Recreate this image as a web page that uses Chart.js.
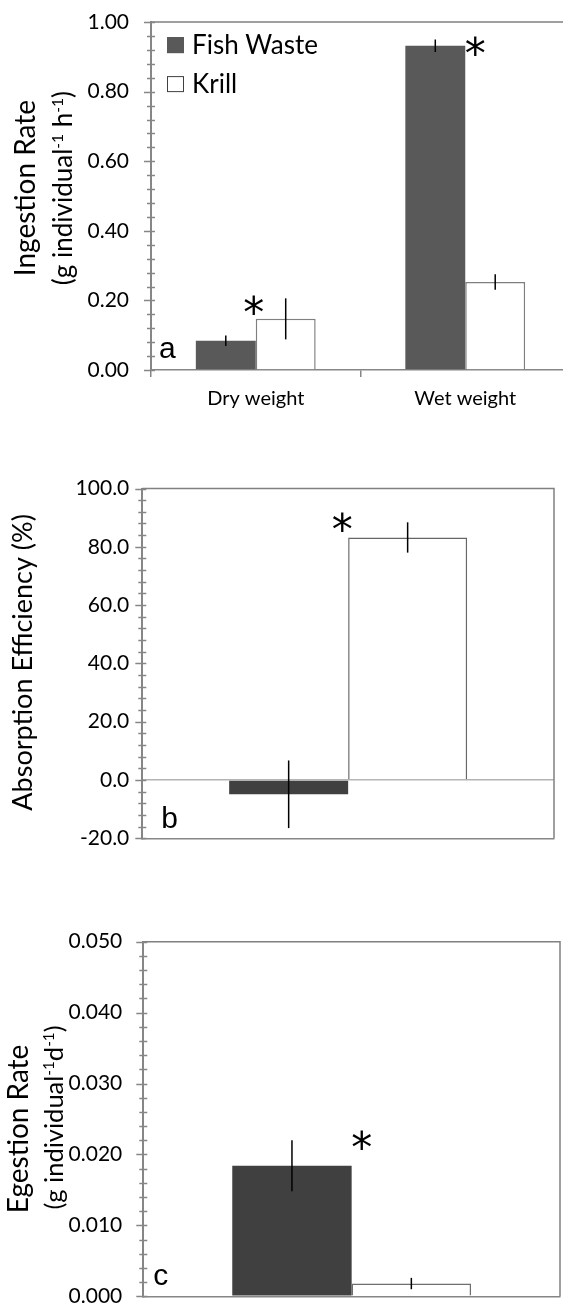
<!DOCTYPE html>
<html>
<head>
<meta charset="utf-8">
<script src="https://cdn.jsdelivr.net/npm/chart.js@4.4.1/dist/chart.umd.min.js"></script>
<style>
  html, body { margin: 0; padding: 0; background: #fff; overflow: hidden; width: 563px; height: 1306px; }
  .panel { position: absolute; left: 0; width: 563px; overflow: hidden; }
  canvas { display: block; }
</style>
</head>
<body>
<div class="panel" style="top:0px;height:430px"><canvas id="ingestion" width="580" height="430"></canvas></div>
<div class="panel" style="top:440px;height:420px"><canvas id="absorption" width="563" height="420"></canvas></div>
<div class="panel" style="top:880px;height:426px"><canvas id="egestion" width="563" height="450"></canvas></div>
<script>
// ---------- data ----------
const seriesNames = ['Fish Waste', 'Krill'];

// (a) ingestion rate, g individual^-1 h^-1
const ingestionCategories = ['Dry weight', 'Wet weight'];
const ingestionFishWaste = [0.084, 0.932];
const ingestionFishWasteSE = [0.015, 0.018];
const ingestionKrill = [0.147, 0.253];
const ingestionKrillSE = [0.059, 0.022];
const ingestionTickLabels = ['0.00', '0.20', '0.40', '0.60', '0.80', '1.00'];

// (b) absorption efficiency, %
const absorptionCategories = [''];
const absorptionFishWaste = [-4.9];
const absorptionFishWasteSE = [11.6];
const absorptionKrill = [83.2];
const absorptionKrillSE = [5.2];
const absorptionTickLabels = ['-20.0', '0.0', '20.0', '40.0', '60.0', '80.0', '100.0'];

// (c) egestion rate, g individual^-1 d^-1
const egestionCategories = [''];
const egestionFishWaste = [0.0184];
const egestionFishWasteSE = [0.0036];
const egestionKrill = [0.0018];
const egestionKrillSE = [0.0008];
const egestionTickLabels = ['0.000', '0.010', '0.020', '0.030', '0.040', '0.050'];

// ---------- styling ----------
const AXIS_GREY = '#868686';
const FRAME_GREY = '#808080';
const TEXT_FONT = 'Lato';

Chart.defaults.font.family = TEXT_FONT;
Chart.defaults.color = '#000';

// Draws frame lines, crossing tick marks, error bars, significance stars,
// panel letter, the rotated (superscripted) axis title and the legend.
const panelDecor = {
  id: 'panelDecor',
  afterDatasetsDraw(chart, args, o) {
    const { ctx, chartArea: a, scales: { y } } = chart;
    ctx.save();
    // frame: top and right edges of the plot box
    ctx.strokeStyle = FRAME_GREY;
    ctx.lineWidth = 1.5;
    ctx.beginPath();
    ctx.moveTo(a.left, a.top); ctx.lineTo(a.right, a.top); ctx.lineTo(a.right, a.bottom);
    ctx.stroke();

    // y tick marks (major labelled, minor unlabelled), crossing the axis
    ctx.strokeStyle = AXIS_GREY;
    ctx.lineWidth = 1.5;
    y.ticks.forEach((t) => {
      const py = Math.round(y.getPixelForValue(t.value)) + 0.5;
      const major = t.label !== '';
      ctx.beginPath();
      ctx.moveTo(a.left - (major ? 7 : 4), py);
      ctx.lineTo(a.left + 4, py);
      ctx.stroke();
    });

    // error bars (mean ± SE)
    ctx.strokeStyle = '#000';
    ctx.lineWidth = 1.5;
    chart.data.datasets.forEach((ds, di) => {
      const se = o.errors[di];
      chart.getDatasetMeta(di).data.forEach((bar, i) => {
        const v = ds.data[i];
        const e = se[i];
        ctx.beginPath();
        ctx.moveTo(bar.x, y.getPixelForValue(v + e));
        ctx.lineTo(bar.x, y.getPixelForValue(v - e));
        ctx.stroke();
      });
    });

    // significance stars beside the relevant bars
    ctx.fillStyle = '#000';
    ctx.font = o.starFont;
    ctx.textAlign = 'center';
    ctx.textBaseline = 'alphabetic';
    const sm = ctx.measureText('*');
    const starShift = (sm.actualBoundingBoxAscent - sm.actualBoundingBoxDescent) / 2;
    o.stars.forEach((s) => {
      const bar = chart.getDatasetMeta(s.dataset).data[s.index];
      const ds = chart.data.datasets[s.dataset];
      const edge = s.edge === 'left' ? bar.x - bar.width / 2 : bar.x + bar.width / 2;
      const top = y.getPixelForValue(ds.data[s.index] + o.errors[s.dataset][s.index]);
      ctx.fillText('*', edge + s.dx, top + s.dy + starShift);
    });

    // panel letter
    ctx.font = o.letterFont;
    ctx.textAlign = 'left';
    ctx.fillText(o.letter, a.left + o.letterDx, a.bottom - o.letterDy);

    // rotated axis title with superscripts
    const mid = (a.top + a.bottom) / 2;
    o.title.lines.forEach((segs, li) => {
      const size = o.title.sizes[li];
      const parts = segs.map((s) => {
        const fs = s.sup ? size * 0.6 : size;
        ctx.font = fs + 'px ' + TEXT_FONT;
        return { s, fs, w: ctx.measureText(s.t).width };
      });
      const total = parts.reduce((acc, p) => acc + p.w, 0);
      ctx.save();
      ctx.translate(o.title.baselines[li], mid + o.title.dys[li]);
      ctx.rotate(-Math.PI / 2);
      ctx.textAlign = 'left';
      let u = -total / 2;
      parts.forEach((p) => {
        ctx.font = p.fs + 'px ' + TEXT_FONT;
        ctx.fillText(p.s.t, u, p.s.sup ? -size * 0.36 : 0);
        u += p.w;
      });
      ctx.restore();
    });

    // legend inside the plot area
    if (o.legend) {
      ctx.font = o.legend.size + 'px ' + TEXT_FONT;
      ctx.textBaseline = 'middle';
      ctx.textAlign = 'left';
      chart.data.datasets.forEach((ds, di) => {
        const ly = a.top + o.legend.firstRow + di * o.legend.rowGap;
        const lx = a.left + o.legend.dx;
        ctx.fillStyle = ds.backgroundColor;
        ctx.fillRect(lx, ly - 8, 17, 16);
        ctx.strokeStyle = ds.legendEdge;
        ctx.lineWidth = 1;
        ctx.strokeRect(lx + 0.5, ly - 7.5, 16, 15);
        ctx.fillStyle = '#000';
        ctx.fillText(ds.label, lx + 25, ly + 1);
      });
    }
    ctx.restore();
  }
};

function tickLabeller(labels, min, major) {
  return (v) => {
    const k = (v - min) / major;
    const r = Math.round(k);
    return Math.abs(k - r) < 1e-6 ? labels[r] : '';
  };
}

function makePanel(id, cfg) {
  const canvas = document.getElementById(id);
  const area = cfg.area;
  return new Chart(canvas, {
    type: 'bar',
    data: {
      labels: cfg.categories,
      datasets: [
        { label: seriesNames[0], data: cfg.fish, backgroundColor: cfg.fishColor, borderColor: cfg.fishColor,
          borderWidth: 0, legendEdge: cfg.fishColor },
        { label: seriesNames[1], data: cfg.krill, backgroundColor: '#ffffff', borderColor: cfg.krillEdge,
          borderWidth: 1.5, legendEdge: '#404040' }
      ]
    },
    options: {
      responsive: false,
      animation: false,
      devicePixelRatio: 1,
      layout: { padding: { top: area.top, right: canvas.width - area.right, left: 0, bottom: 0 } },
      datasets: { bar: { categoryPercentage: cfg.catPct, barPercentage: 1.0 } },
      plugins: {
        legend: { display: false },
        tooltip: { enabled: false },
        panelDecor: cfg.decor
      },
      scales: {
        x: {
          offset: true,
          afterFit: (s) => { s.height = canvas.height - area.bottom; },
          border: { display: true, color: AXIS_GREY, width: 1.5 },
          grid: { offset: true, drawOnChartArea: false, drawTicks: cfg.xTicks, tickLength: 7,
                  color: AXIS_GREY, lineWidth: 1.5, display: cfg.xTicks },
          ticks: { display: cfg.xTicks, font: { size: 20, lineHeight: 0.01 }, padding: 21, color: '#000' }
        },
        y: {
          min: cfg.min, max: cfg.max,
          afterFit: (s) => { s.width = area.left; },
          border: { display: true, color: AXIS_GREY, width: 2 },
          grid: {
            drawTicks: false,
            drawOnChartArea: true,
            lineWidth: 1.5,
            color: (c) => (cfg.zeroLine && c.tick && c.tick.value === 0) ? '#b3b3b3' : 'rgba(0,0,0,0)'
          },
          ticks: {
            stepSize: cfg.minor,
            autoSkip: false,
            padding: cfg.tickPad,
            font: { size: 21, lineHeight: 0.01 },
            color: '#000',
            callback: tickLabeller(cfg.tickLabels, cfg.min, cfg.major)
          }
        }
      }
    },
    plugins: [panelDecor]
  });
}

makePanel('ingestion', {
  categories: ingestionCategories,
  fish: ingestionFishWaste, krill: ingestionKrill,
  fishColor: '#595959', krillEdge: '#7f7f7f',
  min: 0, max: 1, major: 0.2, minor: 0.04, tickLabels: ingestionTickLabels,
  area: { left: 151, top: 22, right: 570, bottom: 370 },
  tickPad: 22, xTicks: true, catPct: 0.572, zeroLine: false,
  decor: {
    errors: [ingestionFishWasteSE, ingestionKrillSE],
    starFont: '42px "DejaVu Sans"',
    stars: [
      { dataset: 1, index: 0, edge: 'left', dx: -2, dy: 7 },
      { dataset: 0, index: 1, edge: 'right', dx: 10, dy: 7 }
    ],
    letter: 'a', letterFont: '30px "Liberation Sans"', letterDx: 8, letterDy: 12,
    title: {
      sizes: [28, 26], baselines: [35, 72], dys: [-8, -8],
      lines: [
        [{ t: 'Ingestion Rate' }],
        [{ t: '(g individual' }, { t: '-1', sup: true }, { t: ' h' }, { t: '-1', sup: true }, { t: ')' }]
      ]
    },
    legend: { size: 26, dx: 16, firstRow: 23, rowGap: 39 }
  }
});

makePanel('absorption', {
  categories: absorptionCategories,
  fish: absorptionFishWaste, krill: absorptionKrill,
  fishColor: '#404040', krillEdge: '#666666',
  min: -20, max: 100, major: 20, minor: 4, tickLabels: absorptionTickLabels,
  area: { left: 142.3, top: 48.5, right: 554, bottom: 398.3 },
  tickPad: 13, xTicks: false, catPct: 0.578, zeroLine: true,
  decor: {
    errors: [absorptionFishWasteSE, absorptionKrillSE],
    starFont: '42px "DejaVu Sans"',
    stars: [
      { dataset: 1, index: 0, edge: 'left', dx: -6, dy: 0 }
    ],
    letter: 'b', letterFont: '30px "Liberation Sans"', letterDx: 19, letterDy: 10,
    title: {
      sizes: [27], baselines: [32], dys: [-1],
      lines: [[{ t: 'Absorption Efficiency (%)' }]]
    },
    legend: null
  }
});

makePanel('egestion', {
  categories: egestionCategories,
  fish: egestionFishWaste, krill: egestionKrill,
  fishColor: '#404040', krillEdge: '#6e6e6e',
  min: 0, max: 0.05, major: 0.01, minor: 0.002, tickLabels: egestionTickLabels,
  area: { left: 143.3, top: 61.7, right: 560, bottom: 416.3 },
  tickPad: 21, xTicks: false, catPct: 0.573, zeroLine: false,
  decor: {
    errors: [egestionFishWasteSE, egestionKrillSE],
    starFont: '42px "DejaVu Sans"',
    stars: [
      { dataset: 0, index: 0, edge: 'right', dx: 10, dy: 0 }
    ],
    letter: 'c', letterFont: '30px "Liberation Sans"', letterDx: 10, letterDy: 11,
    title: {
      sizes: [28, 25.5], baselines: [28, 63], dys: [10, -1.5],
      lines: [
        [{ t: 'Egestion Rate' }],
        [{ t: '(g individual' }, { t: '-1', sup: true }, { t: 'd' }, { t: '-1', sup: true }, { t: ')' }]
      ]
    },
    legend: null
  }
});
</script>
</body>
</html>
